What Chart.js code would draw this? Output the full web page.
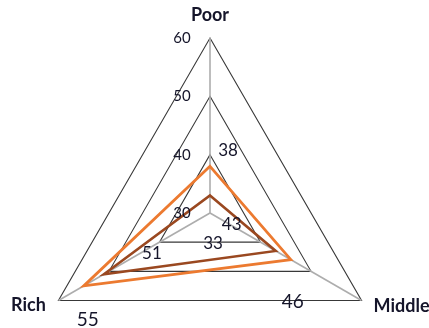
<!DOCTYPE html>
<html>
<head>
<meta charset="utf-8">
<script src="https://cdn.jsdelivr.net/npm/chart.js@4/dist/chart.umd.min.js"></script>
<style>
  html, body { margin: 0; padding: 0; background: #ffffff; }
  #wrap { width: 429px; height: 328px; }
</style>
</head>
<body>
<div id="wrap"><canvas id="chart" width="429" height="328"></canvas></div>
<script>
// Income groups around the radar
const categories = ['Poor', 'Middle', 'Rich'];

// Series values, one per income group
const seriesA = [38, 46, 55];
const seriesB = [33, 43, 51];

// Radial tick labels
const tickValues = [30, 40, 50, 60];

// Label styling (pixel offsets from each vertex, font sizes)
const labelStyleA = { dx: [18, 2, 4], dy: [-16, 42, 34], size: [17, 19, 19] };
const labelStyleB = { dx: [3, -44, 48], dy: [48, -26, -21], size: [17, 17, 17] };

const TEXT = '#15152a';
const FONT = 'Lato, "Open Sans", sans-serif';

const labelsPlugin = {
  id: 'radarLabels',
  afterDatasetsDraw(chart) {
    const ctx = chart.ctx;
    const r = chart.scales.r;
    ctx.save();
    ctx.fillStyle = TEXT;
    ctx.textAlign = 'center';
    ctx.textBaseline = 'middle';

    // tick labels to the left of the vertical spoke
    ctx.font = '15px ' + FONT;
    tickValues.forEach(v => {
      const d = r.getDistanceFromCenterForValue(v);
      ctx.fillText(String(v), r.xCenter - 28, r.yCenter - d);
    });

    // category labels just outside the outer ring
    ctx.font = 'bold 18px ' + FONT;
    const outer = r.getDistanceFromCenterForValue(r.max);
    const catOffsets = [[0, -23], [40, 6], [-30, 5]];
    categories.forEach((c, i) => {
      const p = r.getPointPosition(i, outer);
      ctx.fillText(c, p.x + catOffsets[i][0], p.y + catOffsets[i][1]);
    });

    // value labels
    const styles = [labelStyleA, labelStyleB];
    chart.data.datasets.forEach((ds, di) => {
      const meta = chart.getDatasetMeta(di);
      const st = styles[di];
      meta.data.forEach((pt, i) => {
        ctx.font = st.size[i] + 'px ' + FONT;
        ctx.fillText(String(ds.data[i]), pt.x + st.dx[i], pt.y + st.dy[i]);
      });
    });
    ctx.restore();
  }
};

new Chart(document.getElementById('chart'), {
  type: 'radar',
  data: {
    labels: categories,
    datasets: [
      {
        data: seriesA,
        borderColor: '#ec7a30',
        borderWidth: 2.8,
        fill: false,
        pointRadius: 0,
        borderJoinStyle: 'miter'
      },
      {
        data: seriesB,
        borderColor: '#9a4820',
        borderWidth: 2.6,
        fill: false,
        pointRadius: 0,
        borderJoinStyle: 'miter'
      }
    ]
  },
  options: {
    responsive: false,
    animation: false,
    events: [],
    plugins: { legend: { display: false }, tooltip: { enabled: false } },
    scales: {
      r: {
        min: 30,
        max: 60,
        ticks: { stepSize: 10, display: false },
        pointLabels: { display: false },
        grid: { color: '#383838', lineWidth: 1.1 },
        angleLines: { color: '#adadad', lineWidth: 1.6 },
        afterFit(scale) {
          scale.xCenter = 210;
          scale.yCenter = 213;
          scale.drawingArea = 175;
        }
      }
    }
  },
  plugins: [labelsPlugin]
});
</script>
</body>
</html>
